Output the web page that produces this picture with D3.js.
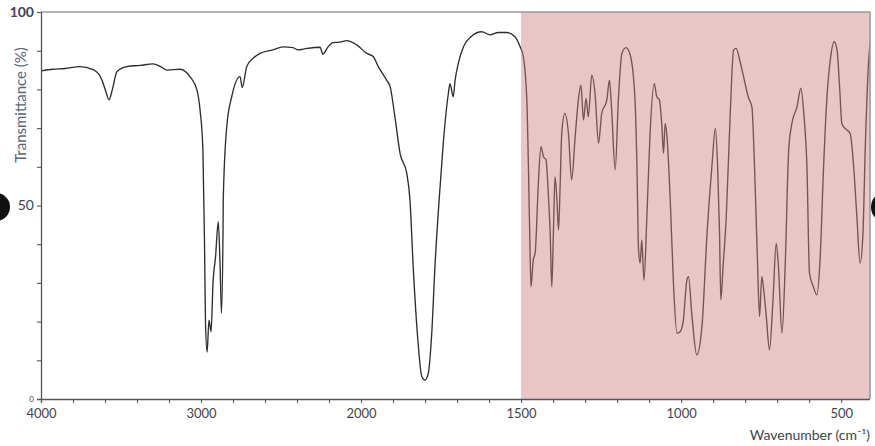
<!DOCTYPE html>
<html>
<head>
<meta charset="utf-8">
<script src="https://cdn.jsdelivr.net/npm/d3@7/dist/d3.min.js"></script>
<style>
  html, body { margin: 0; padding: 0; background: #fff; }
  svg { display: block; font-family: Lato, "Open Sans", sans-serif; }
</style>
</head>
<body>
<svg id="chart" width="875" height="446"></svg>
<script>
// Wavenumber (cm^-1) and transmittance (%)
const wavenumber = [
  4000, 3925, 3850, 3756, 3675, 3640, 3619, 3595, 3575, 3555, 3525, 3463, 3380, 3300, 3250, 3213, 3131, 3069, 3025, 3006, 2988, 2978, 2972,
  2962, 2950, 2937, 2925, 2909, 2892, 2881, 2872, 2862, 2861, 2839, 2808, 2756, 2742, 2714, 2670, 2631, 2550,
  2488, 2425, 2394, 2338, 2256, 2238, 2206, 2175, 2131, 2089, 2027,
  1982, 1962, 1946, 1920, 1909, 1894, 1878, 1857, 1847, 1837, 1824, 1810, 1800, 1790, 1779, 1769, 1756,
  1743, 1727, 1722, 1712, 1706, 1696, 1680, 1654, 1623, 1597, 1571, 1545, 1519, 1503, 1493, 1482, 1477,
  1472, 1469, 1462, 1456, 1446, 1438, 1430, 1422, 1415, 1409, 1404, 1399, 1394, 1388, 1383, 1378, 1373,
  1363, 1352, 1342, 1331, 1321, 1313, 1305, 1297, 1290, 1279, 1269, 1258, 1248, 1232, 1224, 1217, 1206,
  1196, 1185, 1172, 1159, 1144, 1138, 1133, 1128, 1123, 1116, 1107, 1097, 1084, 1076, 1068, 1060, 1055,
  1050, 1045, 1034, 1024, 1013, 1003, 993, 982, 977, 966, 951, 935, 919, 904, 893, 886, 880, 876, 869,
  859, 847, 836, 828, 817, 805, 789, 779, 769, 761, 755, 748, 742, 734, 724, 713, 703, 696, 685, 675,
  664, 654, 638, 626, 616, 607, 599, 587, 576, 566, 555, 545, 534, 522, 513, 505, 498, 493, 482, 472,
  461, 451, 441, 432, 425, 414, 405
];
const transmittance = [
  84.8, 85.2, 85.4, 85.9, 85.1, 84.0, 82.4, 79.5, 77.3, 79.8, 84.6, 85.9, 86.2, 86.6, 85.8, 85.0, 85.2, 83.3, 79.8, 74.7, 64.3, 40.0, 20.0,
  12.1, 20.4, 17.4, 30.0, 36.8, 45.8, 35.0, 22.2, 45.0, 51.4, 70.4, 78.1, 83.3, 80.5, 85.9, 88.2, 89.3, 90.2,
  91.0, 90.8, 90.2, 90.6, 90.9, 89.1, 91.0, 92.1, 92.2, 92.6, 91.5,
  89.3, 88.5, 85.9, 82.4, 80.7, 72.9, 63.5, 58.3, 51.4, 34.2, 17.0, 5.8, 4.9, 6.6, 17.0, 34.2, 51.4,
  66.1, 79.0, 81.5, 78.1, 82.4, 86.7, 91.0, 93.8, 94.9, 94.1, 94.7, 94.7, 93.6, 91.0, 88.5, 77.3, 60.0,
  38.5, 29.0, 35.9, 37.7, 55.7, 65.2, 62.6, 61.8, 53.1, 42.8, 29.0, 42.8, 57.4, 51.4, 43.7, 54.9, 68.6,
  73.8, 68.6, 56.6, 67.8, 77.3, 81.1, 72.1, 77.7, 72.9, 83.7, 79.0, 66.1, 73.8, 77.3, 82.4, 74.7, 59.2,
  77.3, 89.3, 90.8, 88.9, 77.3, 60.0, 38.5, 35.1, 41.1, 30.7, 47.1, 68.6, 81.5, 78.1, 77.3, 70.4, 63.5,
  71.2, 68.6, 51.4, 29.9, 17.0, 17.4, 20.4, 30.7, 31.6, 21.3, 11.4, 18.7, 42.8, 60.0, 69.9, 60.0, 42.8, 25.6, 34.2,
  47.1, 72.9, 90.2, 90.6, 87.6, 83.3, 77.7, 75.5, 55.7, 34.2, 21.3, 31.6, 28.2, 21.3, 12.7, 25.6, 40.2, 34.2, 17.0, 34.2,
  64.3, 71.2, 75.5, 80.3, 72.9, 60.0, 32.5, 29.0, 26.9, 35.9, 60.0, 77.3, 87.6, 92.3, 90.2, 80.7, 71.2, 70.4, 69.5, 68.6,
  60.0, 47.1, 35.1, 42.8, 64.3, 87.6, 95.0
];
const xMinorTicks = [4000, 3800, 3600, 3400, 3200, 3000, 2800, 2600, 2400, 2200, 2000,
  1900, 1800, 1700, 1600, 1500, 1400, 1300, 1200, 1100, 1000, 900, 800, 700, 600, 500];
const xTickLabels = [4000, 3000, 2000, 1500, 1000, 500];
const yMinorTicks = [0, 10, 20, 30, 40, 50, 60, 70, 80, 90, 100];
const yTickLabels = [0, 50, 100];
const highlightRange = [1500, 410];
const xTitle = "Wavenumber (cm\u207B\u00B9)";
const yTitle = "Transmittance (%)";

const svg = d3.select("#chart");
const pLeft = 41, pRight = 870, pTop = 12, pBottom = 399;

// Piecewise x scale: the scale doubles below 2000 cm^-1
const x = d3.scaleLinear().domain([4000, 2000, 410]).range([pLeft, 361, pRight]);
const y = d3.scaleLinear().domain([0, 100]).range([pBottom, pTop]);

svg.append("defs").append("clipPath").attr("id", "plotclip")
  .append("rect").attr("x", pLeft).attr("y", pTop - 2).attr("width", pRight - pLeft).attr("height", pBottom - pTop + 2);

const data = wavenumber.map((w, i) => ({w, t: transmittance[i]}));
const line = d3.line().curve(d3.curveMonotoneX).x(d => x(d.w)).y(d => y(d.t));

svg.append("path")
  .datum(data)
  .attr("clip-path", "url(#plotclip)")
  .attr("d", line)
  .attr("fill", "none")
  .attr("stroke", "#2e2e2e")
  .attr("stroke-width", 1.35)
  .attr("stroke-linejoin", "round");

// Highlight band (semi-transparent, over the line)
svg.append("rect")
  .attr("x", x(highlightRange[0]))
  .attr("y", pTop)
  .attr("width", x(highlightRange[1]) - x(highlightRange[0]))
  .attr("height", pBottom - pTop)
  .attr("fill", "rgb(207,128,128)")
  .attr("opacity", 0.45);

// Frame (top and right)
svg.append("path")
  .attr("d", `M${pLeft},${pTop}H${pRight}V${pBottom}`)
  .attr("fill", "none")
  .attr("stroke", "#9a9a9a")
  .attr("stroke-width", 1.6);

// X axis
const xAxis = d3.axisBottom(x)
  .tickValues(xMinorTicks)
  .tickSizeInner(4)
  .tickSizeOuter(0)
  .tickPadding(6)
  .tickFormat(d => xTickLabels.includes(d) ? String(d) : "");
const gx = svg.append("g").attr("transform", `translate(0,${pBottom})`).call(xAxis);
gx.select(".domain").attr("stroke", "#555").attr("stroke-width", 1.3)
  .attr("d", `M${pLeft - 4},0.5H${pRight}`);
gx.selectAll(".tick line").attr("stroke", "#555").attr("stroke-width", 1.1);
gx.selectAll(".tick text").attr("fill", "#3f4450").attr("font-size", "13px")
  .attr("font-family", "Lato, 'Open Sans', sans-serif");

// Y axis
const yAxis = d3.axisLeft(y)
  .tickValues(yMinorTicks)
  .tickSizeInner(4)
  .tickSizeOuter(0)
  .tickFormat("");
const gy = svg.append("g").attr("transform", `translate(${pLeft},0)`).call(yAxis);
gy.select(".domain").attr("stroke", "#555").attr("stroke-width", 1.3)
  .attr("d", `M0.5,${pTop}V${pBottom + 4}`);
gy.selectAll(".tick line").attr("stroke", "#555").attr("stroke-width", 1.1);

const ySizes = {0: 8, 50: 14, 100: 14};
const yWeights = {0: 400, 50: 400, 100: 700};
svg.append("g").selectAll("text")
  .data(yTickLabels)
  .join("text")
  .attr("x", 34)
  .attr("y", d => y(d))
  .attr("dy", "0.35em")
  .attr("text-anchor", "end")
  .attr("fill", "#3f4450")
  .attr("font-size", d => ySizes[d] + "px")
  .attr("font-weight", d => yWeights[d])
  .text(d => d);

// Titles
svg.append("text")
  .attr("x", pRight)
  .attr("y", 440)
  .attr("text-anchor", "end")
  .attr("fill", "#3f4450")
  .attr("font-size", "14px")
  .text(xTitle);

svg.append("text")
  .attr("transform", `translate(26,105) rotate(-90)`)
  .attr("text-anchor", "middle")
  .attr("fill", "#5a6478")
  .attr("font-size", "15px")
  .text(yTitle);

// Black edge markers present in the reference image
svg.append("circle").attr("cx", -4).attr("cy", 207).attr("r", 14).attr("fill", "#111");
svg.append("circle").attr("cx", 887).attr("cy", 207).attr("r", 16).attr("fill", "#111");
</script>
</body>
</html>
